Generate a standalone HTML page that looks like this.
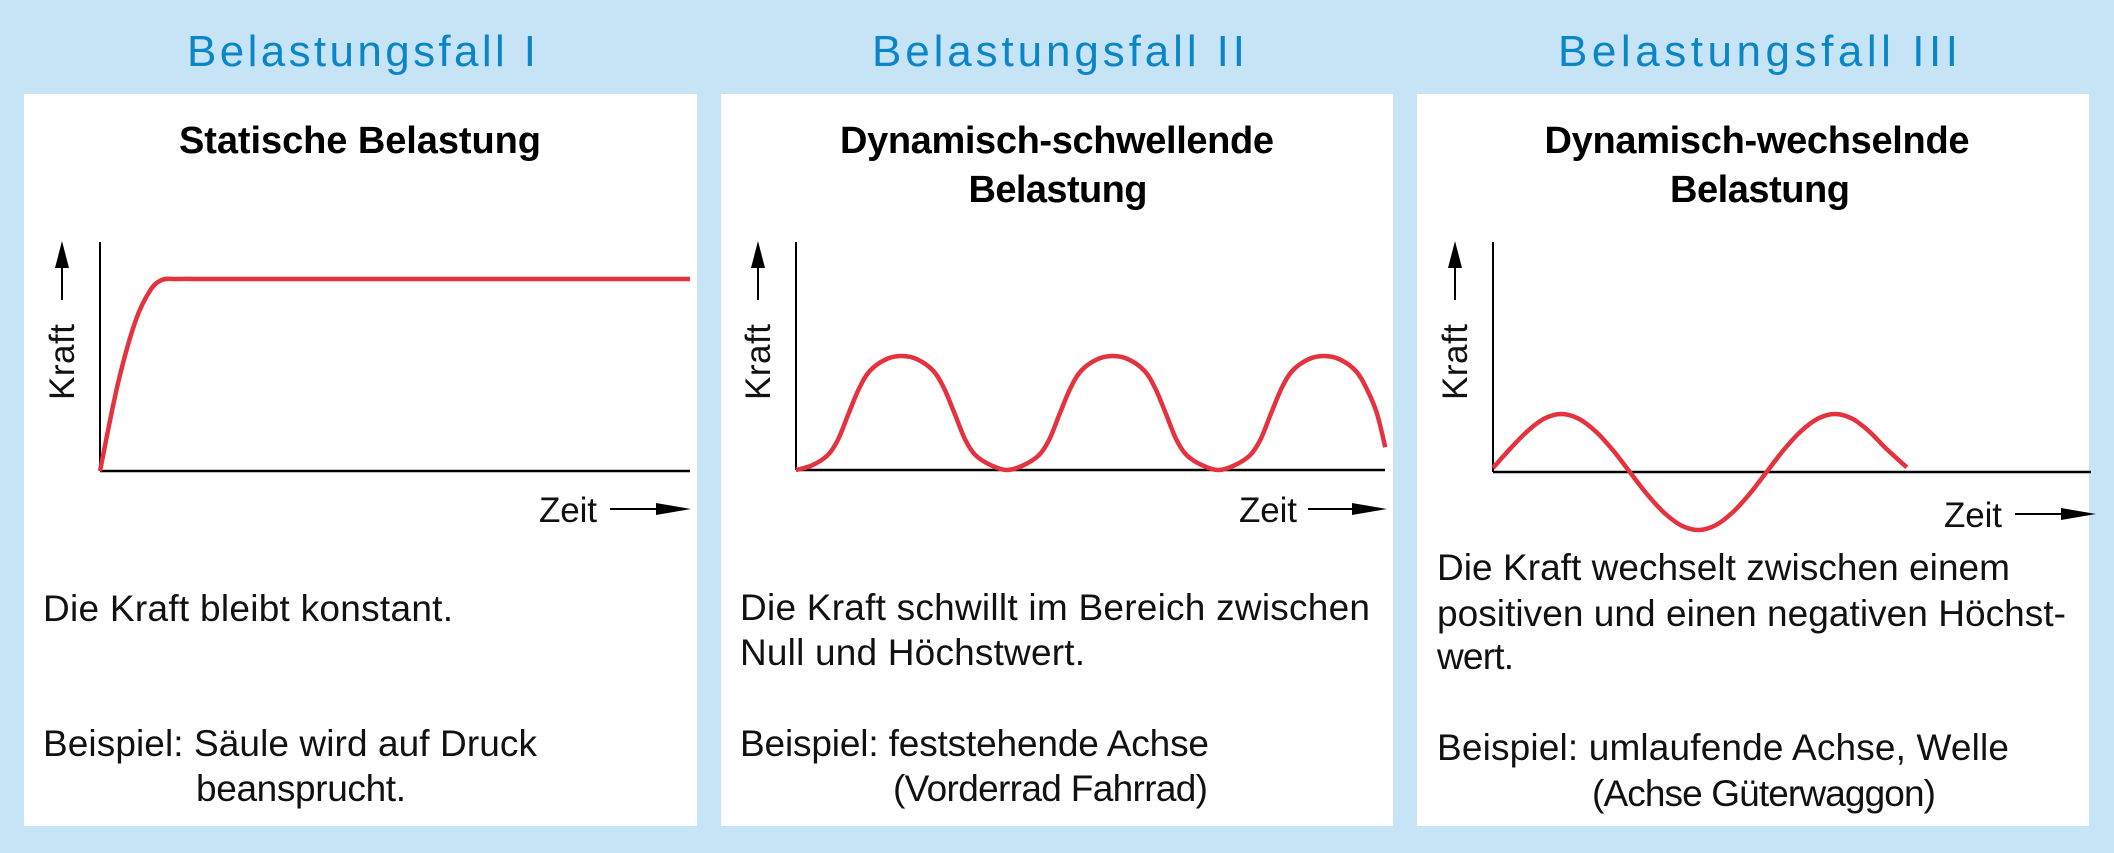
<!DOCTYPE html>
<html><head><meta charset="utf-8"><style>
html,body{margin:0;padding:0;background:#c6e4f6;}
svg{display:block;}
.blue{font-family:"Liberation Sans",sans-serif;font-size:44px;fill:#0a86c8;}
.bold{font-family:"Liberation Sans",sans-serif;font-size:38px;font-weight:bold;fill:#000;}
.body{font-family:"Liberation Sans",sans-serif;font-size:37px;fill:#111;}
.ax{font-family:"Liberation Sans",sans-serif;font-size:35px;fill:#111;}
</style></head><body>
<svg id="s" width="2114" height="853" viewBox="0 0 2114 853">
<rect width="2114" height="853" fill="#c6e4f6"/>
<g>
<text class="blue" x="187" y="66" textLength="349">Belastungsfall I</text>
<rect x="24" y="94" width="673" height="732" fill="#fff"/>
<text class="bold" x="360" y="153" text-anchor="middle" textLength="362">Statische Belastung</text>
<text class="body" x="43" y="621" textLength="410">Die Kraft bleibt konstant.</text>
<text class="body" x="43" y="756" textLength="494">Beispiel: Säule wird auf Druck</text>
<text class="body" x="196" y="801" textLength="210">beansprucht.</text>
</g>
<g>
<text class="blue" x="872" y="66" textLength="373">Belastungsfall II</text>
<rect x="721" y="94" width="672" height="732" fill="#fff"/>
<text class="bold" x="1057" y="153" text-anchor="middle" textLength="434">Dynamisch-schwellende</text>
<text class="bold" x="1058" y="202" text-anchor="middle" textLength="179">Belastung</text>
<text class="body" x="740" y="620" textLength="630">Die Kraft schwillt im Bereich zwischen</text>
<text class="body" x="740" y="665" textLength="345">Null und Höchstwert.</text>
<text class="body" x="740" y="756" textLength="469">Beispiel: feststehende Achse</text>
<text class="body" x="893" y="801" textLength="315">(Vorderrad Fahrrad)</text>
</g>
<g>
<text class="blue" x="1558" y="66" textLength="400">Belastungsfall III</text>
<rect x="1417" y="94" width="672" height="732" fill="#fff"/>
<text class="bold" x="1757" y="153" text-anchor="middle" textLength="425">Dynamisch-wechselnde</text>
<text class="bold" x="1760" y="202" text-anchor="middle" textLength="180">Belastung</text>
<text class="body" x="1437" y="580" textLength="573">Die Kraft wechselt zwischen einem</text>
<text class="body" x="1437" y="626" textLength="629">positiven und einen negativen Höchst-</text>
<text class="body" x="1437" y="669" textLength="77">wert.</text>
<text class="body" x="1437" y="760" textLength="572">Beispiel: umlaufende Achse, Welle</text>
<text class="body" x="1592" y="806" textLength="344">(Achse Güterwaggon)</text>
</g>
<g id="charts"></g>
</svg>
<script>
// Panel 1: static load (time in units, force 0..1)
const p1Times = [0, 0.3, 0.6, 0.85, 1.05, 1.3, 2, 4, 6, 8, 10];
const p1Force = [0, 0.45, 0.78, 0.94, 0.995, 1.0, 1.0, 1.0, 1.0, 1.0, 1.0];
// Panel 2: pulsating load (time unit = half period)
const p2Times = [0,0.15,0.3,0.4,0.5,0.6,0.7,0.85,1,1.15,1.3,1.4,1.5,1.6,1.7,1.85,2,2.15,2.3,2.4,2.5,2.6,2.7,2.85,3,3.15,3.3,3.4,3.5,3.6,3.7,3.85,4,4.15,4.3,4.4,4.5,4.6,4.7,4.85,5,5.15,5.3,5.4,5.5,5.58];
const p2Force = [0,0.04,0.13,0.27,0.5,0.72,0.87,0.97,1,0.97,0.87,0.72,0.5,0.27,0.13,0.04,0,0.04,0.13,0.27,0.5,0.72,0.87,0.97,1,0.97,0.87,0.72,0.5,0.27,0.13,0.04,0,0.04,0.13,0.27,0.5,0.72,0.87,0.97,1,0.97,0.87,0.72,0.5,0.2];
// Panel 3: alternating load (time unit = quarter period)
const p3Times = [0,0.25,0.5,0.75,1,1.25,1.5,1.75,2,2.25,2.5,2.75,3,3.25,3.5,3.75,4,4.25,4.5,4.75,5,5.25,5.5,5.75,6.05];
const p3Force = [0.07,0.4,0.7,0.92,1,0.92,0.7,0.38,0,-0.38,-0.7,-0.92,-1,-0.92,-0.7,-0.38,0,0.38,0.7,0.92,1,0.92,0.7,0.4,0.08];

const NS="http://www.w3.org/2000/svg";
const root=document.getElementById('charts');
function mk(tag,attrs,parent){const e=document.createElementNS(NS,tag);for(const k in attrs)e.setAttribute(k,attrs[k]);(parent||root).appendChild(e);return e;}
function smooth(pts){let d=`M${pts[0][0]},${pts[0][1]}`;for(let i=0;i<pts.length-1;i++){const p0=pts[Math.max(0,i-1)],p1=pts[i],p2=pts[i+1],p3=pts[Math.min(pts.length-1,i+2)];const c1=[p1[0]+(p2[0]-p0[0])/6,p1[1]+(p2[1]-p0[1])/6],c2=[p2[0]-(p3[0]-p1[0])/6,p2[1]-(p3[1]-p1[1])/6];d+=` C${c1[0]},${c1[1]} ${c2[0]},${c2[1]} ${p2[0]},${p2[1]}`;}return d;}
function chart(cfg,times,force,idx){
  const g=mk('g',{});
  
  
  const xs=t=>cfg.x0+t*cfg.tu, ys=v=>cfg.y0-v*cfg.amp;
  const ya=mk('line',{x1:cfg.x0,y1:cfg.yTop,x2:cfg.x0,y2:cfg.y0,stroke:'#000','stroke-width':2},g);
  
  
  const xa=mk('line',{x1:cfg.x0,y1:cfg.y0,x2:cfg.xEnd,y2:cfg.y0,stroke:'#000','stroke-width':2.5},g);
  
  
  const pts=times.map((t,i)=>[xs(t),ys(force[i])]);
  const line=mk('path',{d:smooth(pts),fill:'none',stroke:'#e4323f','stroke-width':4.5,'stroke-linejoin':'round'},g);
  
  
  const kx=cfg.kx;
  const kt=mk('text',{class:'ax',x:0,y:0,transform:`translate(${kx+12},400) rotate(-90)`,textLength:76},g);
  kt.textContent='Kraft';
  
  
  const ka=mk('line',{x1:kx,y1:300,x2:kx,y2:262,stroke:'#000','stroke-width':2},g);
  
  
  const kh=mk('polygon',{points:`${kx-7},268 ${kx+7},268 ${kx},241`,fill:'#000'},g);
  
  
  const zt=mk('text',{class:'ax',x:cfg.zx,y:cfg.zy,textLength:58},g);
  zt.textContent='Zeit';
  
  
  const za=mk('line',{x1:cfg.ax1,y1:cfg.ay,x2:cfg.ax2-20,y2:cfg.ay,stroke:'#000','stroke-width':2},g);
  
  
  const zh=mk('polygon',{points:`${cfg.ax2-35},${cfg.ay-6} ${cfg.ax2},${cfg.ay} ${cfg.ax2-35},${cfg.ay+6}`,fill:'#000'},g);
  
  
}
chart({x0:100,y0:471,yTop:242,xEnd:690,tu:59,amp:192,kx:62,zx:539,zy:522,ax1:610,ax2:691,ay:509},p1Times,p1Force,1);
chart({x0:796,y0:470,yTop:242,xEnd:1385,tu:105.6,amp:114,kx:758,zx:1239,zy:522,ax1:1308,ax2:1387,ay:509},p2Times,p2Force,2);
chart({x0:1493,y0:472,yTop:242,xEnd:2091,tu:68.4,amp:58,kx:1455,zx:1944,zy:527,ax1:2015,ax2:2096,ay:514},p3Times,p3Force,3);
</script>
</body></html>
